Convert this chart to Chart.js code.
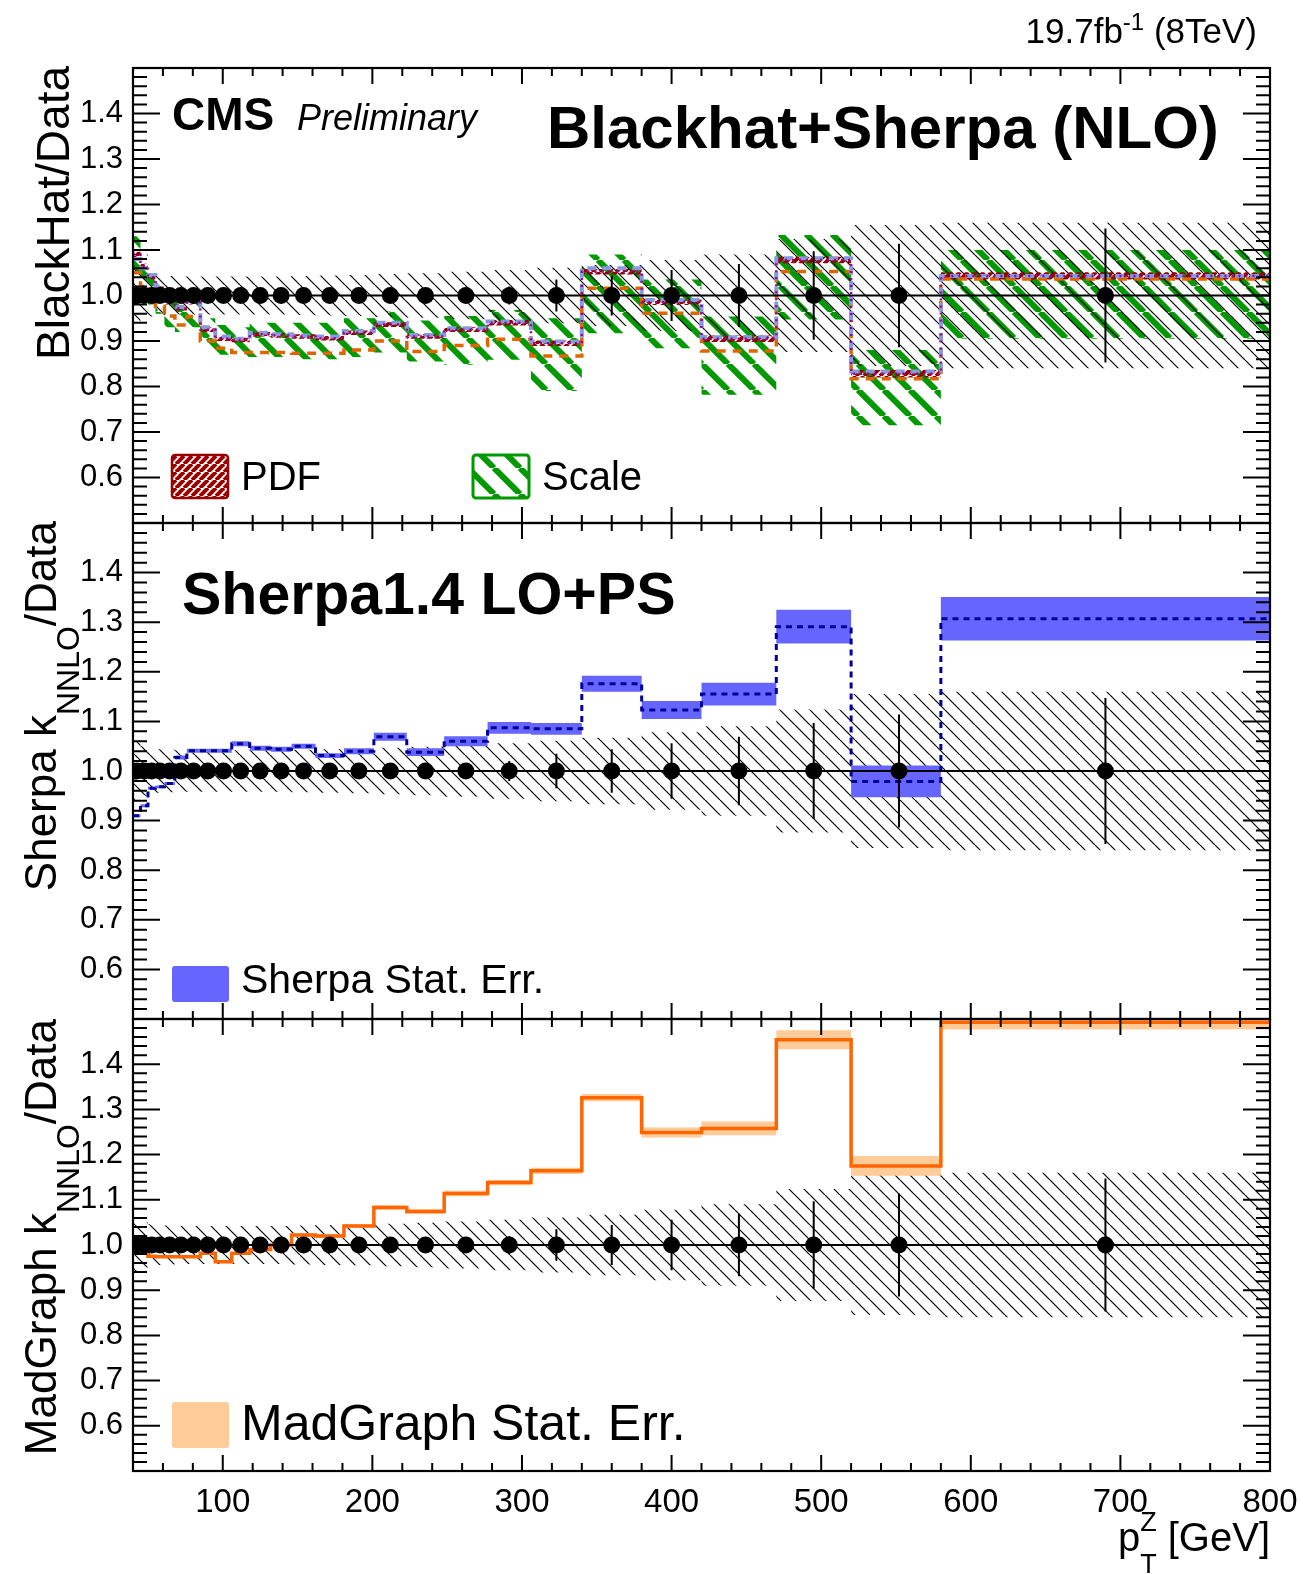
<!DOCTYPE html>
<html>
<head>
<meta charset="utf-8">
<script src="https://cdn.jsdelivr.net/npm/chart.js@4.4.1/dist/chart.umd.min.js"></script>
<style>
body { margin: 0; background: #fff; }
#wrap { position: relative; width: 1315px; height: 1574px; overflow: hidden; background: #fff; }
#wrap canvas { position: absolute; left: 0; }
</style>
</head>
<body>
<div id="wrap">
  <canvas id="p1" width="1315" height="545" style="top:0px"></canvas>
  <canvas id="p2" width="1315" height="540" style="top:500px"></canvas>
  <canvas id="p3" width="1315" height="574" style="top:1000px"></canvas>
</div>
<script>
// pT(Z) binning and data point positions [GeV]
const binEdges = [40, 45, 50, 55, 61, 68, 76, 85, 95, 106, 118, 132, 146, 162, 181, 201, 223, 248, 277, 306, 340, 380, 420, 470, 520, 580, 800];
const pointX = [42.5, 47.5, 52.5, 58, 64.5, 72, 80.5, 90, 100.5, 112, 125, 139, 154, 171.5, 191, 212, 235.5, 262.5, 291.5, 323, 360, 400, 445, 495, 552, 690];

// data: total uncertainty (hatched band) and stat error bars, relative
const dataErr = [0.058, 0.05, 0.046, 0.044, 0.043, 0.042, 0.042, 0.042, 0.042, 0.042, 0.042, 0.042, 0.043, 0.044, 0.045, 0.047, 0.049, 0.052, 0.056, 0.061, 0.067, 0.078, 0.09, 0.124, 0.155, 0.16];
const dataStat = [0.004, 0.004, 0.004, 0.004, 0.004, 0.004, 0.004, 0.004, 0.004, 0.005, 0.005, 0.005, 0.006, 0.006, 0.007, 0.008, 0.01, 0.014, 0.02, 0.035, 0.044, 0.056, 0.069, 0.097, 0.114, 0.147];

// Blackhat+Sherpa / data
const bhCentral = [1.08, 1.06, 1.045, 1.02, 0.99, 0.975, 0.99, 0.93, 0.91, 0.905, 0.918, 0.915, 0.912, 0.91, 0.922, 0.94, 0.913, 0.928, 0.943, 0.899, 1.06, 0.99, 0.908, 1.082, 0.833, 1.043];
const bhPdfCentral = [1.09, 1.065, 1.04, 1.015, 0.985, 0.972, 0.985, 0.925, 0.905, 0.902, 0.915, 0.912, 0.91, 0.906, 0.918, 0.936, 0.91, 0.925, 0.94, 0.895, 1.052, 0.985, 0.905, 1.078, 0.828, 1.043];
const bhPdfErr = [0.006, 0.005, 0.005, 0.005, 0.005, 0.005, 0.005, 0.005, 0.005, 0.005, 0.005, 0.005, 0.005, 0.005, 0.005, 0.005, 0.005, 0.005, 0.006, 0.006, 0.006, 0.006, 0.007, 0.007, 0.008, 0.008];
const bhAlt = [1.05, 1.02, 1.0, 0.976, 0.955, 0.935, 0.954, 0.9, 0.884, 0.875, 0.875, 0.875, 0.873, 0.873, 0.88, 0.9, 0.877, 0.89, 0.904, 0.867, 1.016, 0.961, 0.878, 1.053, 0.817, 1.036];
const bhScaleHi = [1.13, 1.09, 1.06, 1.03, 1.0, 0.99, 1.0, 0.95, 0.935, 0.93, 0.94, 0.94, 0.94, 0.94, 0.95, 0.965, 0.945, 0.955, 0.968, 0.95, 1.09, 1.035, 0.954, 1.133, 0.88, 1.1];
const bhScaleLo = [1.03, 1.0, 0.98, 0.96, 0.93, 0.92, 0.93, 0.88, 0.87, 0.865, 0.865, 0.865, 0.86, 0.86, 0.865, 0.875, 0.855, 0.848, 0.859, 0.79, 0.917, 0.884, 0.782, 0.947, 0.715, 0.905];

// Sherpa 1.4 x k_NNLO / data
const sherpaRatio = [0.91, 0.93, 0.965, 0.968, 0.975, 1.027, 1.041, 1.041, 1.041, 1.055, 1.046, 1.044, 1.05, 1.031, 1.04, 1.069, 1.038, 1.06, 1.087, 1.085, 1.176, 1.123, 1.155, 1.291, 0.979, 1.307];
const sherpaErr = [0.003, 0.003, 0.003, 0.003, 0.003, 0.004, 0.004, 0.004, 0.004, 0.005, 0.005, 0.005, 0.005, 0.005, 0.006, 0.008, 0.008, 0.01, 0.012, 0.012, 0.016, 0.018, 0.023, 0.034, 0.032, 0.044];

// MadGraph x k_NNLO / data
const mgRatio = [0.99, 0.985, 0.975, 0.974, 0.974, 0.974, 0.974, 0.982, 0.963, 0.982, 0.99, 1.0, 1.022, 1.02, 1.042, 1.083, 1.074, 1.114, 1.138, 1.164, 1.326, 1.249, 1.258, 1.454, 1.175, 1.493];
const mgErr = [0.003, 0.003, 0.003, 0.003, 0.003, 0.003, 0.003, 0.003, 0.003, 0.003, 0.003, 0.004, 0.004, 0.004, 0.004, 0.005, 0.005, 0.006, 0.006, 0.007, 0.008, 0.011, 0.015, 0.021, 0.022, 0.016];

// axis labels
const yTickValues = [0.6, 0.7, 0.8, 0.9, 1.0, 1.1, 1.2, 1.3, 1.4];
const xTickValues = [100, 200, 300, 400, 500, 600, 700, 800];

const FONT = '"Liberation Sans", Arial, Helvetica, sans-serif';
Chart.defaults.font.family = FONT;
Chart.defaults.elements.point.radius = 0;

function hatch(color, size, width, dir) {
    const c = document.createElement('canvas');
    c.width = size;
    c.height = size;
    const g = c.getContext('2d');
    g.strokeStyle = color;
    g.lineWidth = width;
    g.beginPath();
    for (let k = -1; k <= 1; k++) {
        if (dir === '\\') { g.moveTo(k * size, 0); g.lineTo(k * size + size, size); }
        else { g.moveTo(k * size, size); g.lineTo(k * size + size, 0); }
    }
    g.stroke();
    return g.createPattern(c, 'repeat');
}

const dataHatch = hatch('#000', 15, 1.2, '\\');
const scaleHatch = hatch('#009900', 26, 6, '\\');
const pdfHatch = hatch('#990000', 8, 4, '/');

// histogram-like step points from per-bin values
function stepPoints(vals) {
    const pts = [];
    vals.forEach((v, i) => {
        pts.push({ x: binEdges[i], y: v });
        pts.push({ x: binEdges[i + 1], y: v });
    });
    return pts;
}

function stepLine(vals, color, width, dash, order) {
    return { data: stepPoints(vals), borderColor: color, borderWidth: width, borderDash: dash, fill: false, order };
}

function band(lo, hi, fillStyle, order) {
    const none = 'rgba(0,0,0,0)';
    return [
        { data: stepPoints(lo), borderColor: none, borderWidth: 0, fill: false, order },
        { data: stepPoints(hi), borderColor: none, borderWidth: 0, fill: '-1', backgroundColor: fillStyle, order }
    ];
}

// data points sit at 1 by construction (data/data)
function dataSets() {
    const bars = [];
    pointX.forEach((x, i) => {
        bars.push({ x, y: 1 - dataStat[i] }, { x, y: 1 + dataStat[i] }, { x, y: null });
    });
    return [
        { data: pointX.map(x => ({ x, y: 1 })), showLine: false, pointRadius: 8.5, pointBackgroundColor: '#000', pointBorderWidth: 0, order: 0 },
        { data: bars, borderColor: '#000', borderWidth: 2, spanGaps: false, order: 1 },
        { data: [{ x: 40, y: 1 }, { x: 800, y: 1 }], borderColor: '#000', borderWidth: 2.2, order: 2 },
        ...band(dataErr.map(e => 1 - e), dataErr.map(e => 1 + e), dataHatch, 7)
    ];
}

function font(size, weight, style) {
    return (style || 'normal') + ' ' + (weight || 'normal') + ' ' + size + 'px ' + FONT;
}

// text with sub/superscripts: parts = [{t, size, weight, style, dy, stay}]
function richText(ctx, parts, x, y, align) {
    let w = 0;
    parts.forEach(p => {
        ctx.font = font(p.size, p.weight, p.style);
        p.w = ctx.measureText(p.t).width;
        if (!p.stay) w += p.w;
    });
    let cx = align === 'right' ? x - w : x;
    ctx.textAlign = 'left';
    ctx.textBaseline = 'alphabetic';
    parts.forEach(p => {
        ctx.font = font(p.size, p.weight, p.style);
        ctx.fillText(p.t, cx, y + (p.dy || 0));
        if (!p.stay) cx += p.w;
    });
}

function yTitle(ctx, parts, bx, topY) {
    ctx.save();
    ctx.translate(bx, topY);
    ctx.rotate(-Math.PI / 2);
    richText(ctx, parts, 0, 0, 'right');
    ctx.restore();
}

function legendBox(ctx, x, y, w, h, fill, stroke, lw) {
    ctx.save();
    ctx.beginPath();
    ctx.roundRect(x, y, w, h, 3);
    ctx.fillStyle = '#fff';
    ctx.fill();
    ctx.fillStyle = fill;
    ctx.fill();
    if (stroke) {
        ctx.strokeStyle = stroke;
        ctx.lineWidth = lw;
        ctx.stroke();
    }
    ctx.restore();
}

// ROOT-style frame with inward ticks on all four sides
const rootFrame = {
    id: 'rootFrame',
    afterDatasetsDraw(chart) {
        const { ctx, chartArea: a, scales: { x, y } } = chart;
        ctx.save();
        ctx.strokeStyle = '#000';
        ctx.lineWidth = 2;
        ctx.beginPath();
        for (let i = 0; i <= 50; i++) {
            const py = y.getPixelForValue(0.5 + i * 0.02);
            const len = i % 5 === 0 ? 27 : 14;
            ctx.moveTo(a.left, py); ctx.lineTo(a.left + len, py);
            ctx.moveTo(a.right, py); ctx.lineTo(a.right - len, py);
        }
        for (let v = 40; v <= 800; v += 20) {
            const px = x.getPixelForValue(v);
            const len = v % 100 === 0 ? 16 : 8;
            ctx.moveTo(px, a.top); ctx.lineTo(px, a.top + len);
            ctx.moveTo(px, a.bottom); ctx.lineTo(px, a.bottom - len);
        }
        ctx.stroke();
        ctx.lineWidth = 2.2;
        ctx.strokeRect(a.left, a.top, a.right - a.left, a.bottom - a.top);
        ctx.restore();
    }
};

function panelText(off, draw) {
    return {
        id: 'panelText',
        afterDraw(chart) {
            const ctx = chart.ctx;
            ctx.save();
            ctx.translate(0, -off);
            ctx.fillStyle = '#000';
            draw(ctx);
            ctx.restore();
        }
    };
}

function options(padTop, padBottom, showX) {
    return {
        responsive: false,
        animation: false,
        events: [],
        layout: { padding: { left: 0, right: 45, top: padTop, bottom: padBottom }, autoPadding: false },
        plugins: { legend: { display: false }, tooltip: { enabled: false } },
        scales: {
            x: {
                type: 'linear', min: 40, max: 800, display: showX,
                afterBuildTicks: s => { s.ticks = xTickValues.map(v => ({ value: v })); },
                afterFit: s => {
                    s.height = showX ? 103 : 0;
                    s.paddingLeft = 0;
                    s.paddingRight = 0;
                },
                grid: { display: false, drawTicks: false },
                border: { display: false },
                ticks: { color: '#000', font: { size: 33 }, padding: 12, maxRotation: 0, autoSkip: false, callback: v => String(v) }
            },
            y: {
                type: 'linear', min: 0.5, max: 1.5,
                afterBuildTicks: s => { s.ticks = yTickValues.map(v => ({ value: v })); },
                afterFit: s => {
                    s.width = 133;
                    s.paddingTop = 0;
                    s.paddingBottom = 0;
                },
                grid: { display: false, drawTicks: false },
                border: { display: false },
                ticks: { color: '#000', font: { size: 31 }, padding: 10, autoSkip: false, callback: v => Number(v).toFixed(1) }
            }
        }
    };
}

// top panel: Blackhat+Sherpa
new Chart(document.getElementById('p1'), {
    type: 'line',
    data: {
        datasets: [
            ...dataSets(),
            stepLine(bhPdfCentral, '#990099', 2.5, [2, 5], 3),
            stepLine(bhCentral, '#8899dd', 4, [9, 6], 4),
            stepLine(bhAlt, '#dd6600', 3.5, [9, 7], 5),
            ...band(bhPdfCentral.map((v, i) => v - bhPdfErr[i]), bhPdfCentral.map((v, i) => v + bhPdfErr[i]), pdfHatch, 6),
            ...band(bhScaleLo, bhScaleHi, scaleHatch, 8)
        ]
    },
    options: options(68, 22, false),
    plugins: [rootFrame, panelText(0, ctx => {
        richText(ctx, [{ t: '19.7fb', size: 35 }, { t: '-1', size: 24, dy: -13 }, { t: ' (8TeV)', size: 35 }], 1257, 43, 'right');
        richText(ctx, [{ t: 'CMS', size: 46, weight: 'bold' }], 172, 130);
        richText(ctx, [{ t: 'Preliminary', size: 36, style: 'italic' }], 297, 130);
        richText(ctx, [{ t: 'Blackhat+Sherpa (NLO)', size: 60, weight: 'bold' }], 547, 148);
        legendBox(ctx, 172, 455, 56, 43, pdfHatch, '#990000', 2.5);
        richText(ctx, [{ t: 'PDF', size: 40 }], 241, 490);
        legendBox(ctx, 473, 455, 56, 43, scaleHatch, '#009900', 3);
        richText(ctx, [{ t: 'Scale', size: 40 }], 542, 490);
        yTitle(ctx, [{ t: 'BlackHat/Data', size: 46 }], 69, 66);
    })]
});

// middle panel: Sherpa 1.4
new Chart(document.getElementById('p2'), {
    type: 'line',
    data: {
        datasets: [
            ...dataSets(),
            stepLine(sherpaRatio, '#000099', 3, [6, 5], 3),
            ...band(sherpaRatio.map((v, i) => v - sherpaErr[i]), sherpaRatio.map((v, i) => v + sherpaErr[i]), '#6666ff', 5)
        ]
    },
    options: options(23, 21, false),
    plugins: [rootFrame, panelText(500, ctx => {
        richText(ctx, [{ t: 'Sherpa1.4 LO+PS', size: 59, weight: 'bold' }], 182, 614);
        legendBox(ctx, 172, 966, 57, 36, '#6666ff');
        richText(ctx, [{ t: 'Sherpa Stat. Err.', size: 41 }], 241, 993);
        yTitle(ctx, [{ t: 'Sherpa k', size: 44 }, { t: 'NNLO', size: 32, dy: 23 }, { t: '/Data', size: 44 }], 56, 521);
    })]
});

// bottom panel: MadGraph
new Chart(document.getElementById('p3'), {
    type: 'line',
    data: {
        datasets: [
            ...dataSets(),
            stepLine(mgRatio, '#ff6600', 3.5, [], 3),
            ...band(mgRatio.map((v, i) => v - mgErr[i]), mgRatio.map((v, i) => v + mgErr[i]), '#ffcc99', 5)
        ]
    },
    options: options(19, 0, true),
    plugins: [rootFrame, panelText(1000, ctx => {
        legendBox(ctx, 172, 1402, 57, 46, '#ffcc99');
        richText(ctx, [{ t: 'MadGraph Stat. Err.', size: 50 }], 241, 1440);
        yTitle(ctx, [{ t: 'MadGraph k', size: 44 }, { t: 'NNLO', size: 32, dy: 23 }, { t: '/Data', size: 44 }], 56, 1019);
        richText(ctx, [{ t: 'p', size: 40 }, { t: 'Z', size: 27, dy: -20, stay: true }, { t: 'T', size: 27, dy: 22 }, { t: ' [GeV]', size: 40 }], 1270, 1551, 'right');
    })]
});
</script>
</body>
</html>
